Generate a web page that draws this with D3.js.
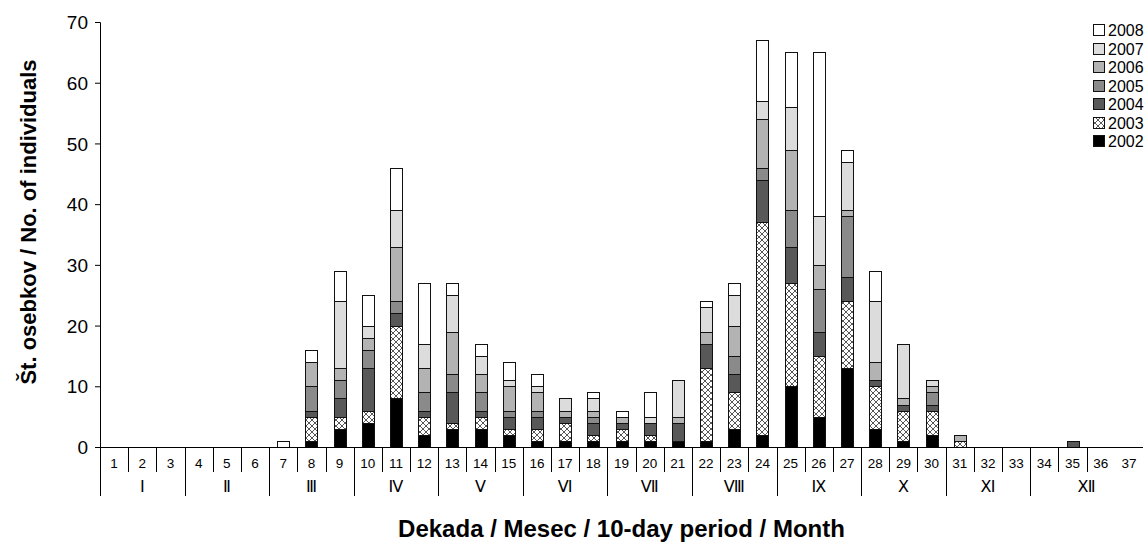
<!DOCTYPE html>
<html>
<head>
<meta charset="utf-8">
<script src="https://cdn.jsdelivr.net/npm/d3@7"></script>
<style>
  html, body { margin: 0; padding: 0; background: #fff; }
  svg { display: block; }
</style>
</head>
<body>
<svg id="chart" width="1147" height="544"></svg>
<script>
// ---- Data ----
const categories = d3.range(1, 38).map(String);
const months = ["Ⅰ","Ⅱ","Ⅲ","Ⅳ","Ⅴ","Ⅵ","Ⅶ","Ⅷ","Ⅸ","Ⅹ","Ⅺ","Ⅻ"];
const years = ["2002","2003","2004","2005","2006","2007","2008"];
const yTicks = [0,10,20,30,40,50,60,70];

//            1 2 3 4 5 6 7 8 9 10 11 12 13 14 15 16 17 18 19 20 21 22 23 24 25 26 27 28 29 30 31 32 33 34 35 36 37
const v2002 = [0,0,0,0,0,0,0,1,3, 4, 8, 2, 3, 3, 2, 1, 1, 1, 1, 1, 1, 1, 3, 2,10, 5,13, 3, 1, 2, 0, 0, 0, 0, 0, 0, 0];
const v2003 = [0,0,0,0,0,0,0,4,2, 2,12, 3, 1, 2, 1, 2, 3, 1, 2, 1, 0,12, 6,35,17,10,11, 7, 5, 4, 1, 0, 0, 0, 0, 0, 0];
const v2004 = [0,0,0,0,0,0,0,1,3, 7, 2, 1, 5, 1, 2, 2, 1, 2, 1, 2, 3, 4, 3, 7, 6, 4, 4, 1, 1, 1, 0, 0, 0, 0, 1, 0, 0];
const v2005 = [0,0,0,0,0,0,0,4,3, 3, 2, 3, 3, 3, 1, 1, 0, 1, 0, 0, 0, 0, 3, 2, 6, 7,10, 0, 0, 2, 0, 0, 0, 0, 0, 0, 0];
const v2006 = [0,0,0,0,0,0,0,4,2, 2, 9, 4, 7, 3, 4, 3, 1, 1, 1, 0, 1, 2, 5, 8,10, 4, 1, 3, 1, 1, 1, 0, 0, 0, 0, 0, 0];
const v2007 = [0,0,0,0,0,0,0,0,11,2, 6, 4, 6, 3, 1, 1, 2, 2, 0, 1, 6, 4, 5, 3, 7, 8, 8,10, 9, 1, 0, 0, 0, 0, 0, 0, 0];
const v2008 = [0,0,0,0,0,0,1,2,5, 5, 7,10, 2, 2, 3, 2, 0, 1, 1, 4, 0, 1, 2,10, 9,27, 2, 5, 0, 0, 0, 0, 0, 0, 0, 0, 0];

const seriesValues = {"2002": v2002, "2003": v2003, "2004": v2004, "2005": v2005, "2006": v2006, "2007": v2007, "2008": v2008};
const fills = {"2002":"#000000","2003":"url(#hatch)","2004":"#585858","2005":"#8a8a8a","2006":"#b3b3b3","2007":"#dcdcdc","2008":"#ffffff"};

const table = categories.map((c, i) => {
  const row = {cat: c};
  years.forEach(y => row[y] = seriesValues[y][i]);
  return row;
});

// ---- Layout ----
const svg = d3.select("#chart");
const mLeft = 100, mRight = 1143, mTop = 22, mBottom = 447;
const FONT = "'Liberation Sans', Arial, sans-serif";

const x = d3.scaleBand().domain(categories).range([mLeft, mRight]).paddingInner(0).paddingOuter(0);
const y = d3.scaleLinear().domain([0, 70]).range([mBottom, mTop]);

// hatch pattern
const defs = svg.append("defs");
const pat = defs.append("pattern").attr("id", "hatch").attr("patternUnits", "userSpaceOnUse")
  .attr("width", 6).attr("height", 6);
pat.append("rect").attr("width", 6).attr("height", 6).attr("fill", "#fff");
pat.append("path").attr("d", "M0,0 L6,6 M6,0 L0,6").attr("stroke", "#444").attr("stroke-width", 0.9);

// stacked bars
const stack = d3.stack().keys(years)(table);
const barW = 12;
svg.append("g").selectAll("g").data(stack).join("g")
  .attr("fill", d => fills[d.key])
  .selectAll("rect").data(d => d.filter(p => p[1] - p[0] > 0)).join("rect")
  .attr("x", d => Math.round(x(d.data.cat) + x.bandwidth() / 2 - barW / 2) + 0.5)
  .attr("width", barW)
  .attr("y", d => Math.round(y(d[1])) + 0.5)
  .attr("height", d => Math.round(y(d[0])) - Math.round(y(d[1])))
  .attr("stroke", "#111").attr("stroke-width", 1);

// y axis
const yAxis = d3.axisLeft(y).tickValues(yTicks).tickSize(5).tickPadding(7);
const gy = svg.append("g").attr("transform", `translate(${mLeft},0)`).call(yAxis);
gy.select(".domain").attr("stroke", "#000").attr("d", `M-5,${mTop}.5H0.5V${mBottom}`);
gy.selectAll(".tick line").attr("stroke", "#000");
gy.selectAll("text").attr("font-family", FONT).attr("font-size", 19).attr("fill", "#000").attr("dy", "0.35em");

// x axis line
svg.append("line").attr("x1", mLeft - 5).attr("x2", mRight).attr("y1", mBottom + 0.5).attr("y2", mBottom + 0.5)
  .attr("stroke", "#000");

// category separators and labels
const gx = svg.append("g");
categories.forEach((c, i) => {
  const x0 = Math.round(x(c)) + 0.5;
  if (i % 3 !== 0) {
    gx.append("line").attr("x1", x0).attr("x2", x0).attr("y1", mBottom).attr("y2", 472).attr("stroke", "#000");
  }
  gx.append("text").attr("x", x(c) + x.bandwidth() / 2).attr("y", 468)
    .attr("text-anchor", "middle").attr("font-family", FONT).attr("font-size", 13.5).text(c);
});
// month separators
const monthStarts = d3.range(0, 12).map(m => m * 3);
monthStarts.forEach(s => {
  const x0 = Math.round(x(categories[s])) + 0.5;
  gx.append("line").attr("x1", x0).attr("x2", x0).attr("y1", mBottom).attr("y2", 496).attr("stroke", "#000");
});
months.forEach((m, i) => {
  const s = i * 3;
  const e = i === 11 ? 37 : s + 3;
  const xs = x(categories[s]);
  const xe = e >= 37 ? mRight : x(categories[e]);
  gx.append("text").attr("x", (xs + xe) / 2).attr("y", 492)
    .attr("text-anchor", "middle").attr("font-family", "'DejaVu Sans', sans-serif").attr("font-size", 16).text(m);
});

// axis titles
svg.append("text").attr("x", (mLeft + mRight) / 2).attr("y", 537).attr("text-anchor", "middle")
  .attr("font-family", FONT).attr("font-weight", "bold").attr("font-size", 24)
  .text("Dekada / Mesec / 10-day period / Month");
svg.append("text").attr("transform", "translate(36,222) rotate(-90)").attr("text-anchor", "middle")
  .attr("font-family", FONT).attr("font-weight", "bold").attr("font-size", 22)
  .text("Št. osebkov / No. of  individuals");

// legend
const legendYears = years.slice().reverse();
const lg = svg.append("g");
legendYears.forEach((yr, i) => {
  const cy = 30 + i * 18.5;
  lg.append("rect").attr("x", 1093.5).attr("y", Math.round(cy - 6) + 0.5).attr("width", 11).attr("height", 11)
    .attr("fill", fills[yr]).attr("stroke", "#111");
  lg.append("text").attr("x", 1108).attr("y", cy + 6).attr("font-family", FONT).attr("font-size", 16).text(yr);
});
</script>
</body>
</html>
